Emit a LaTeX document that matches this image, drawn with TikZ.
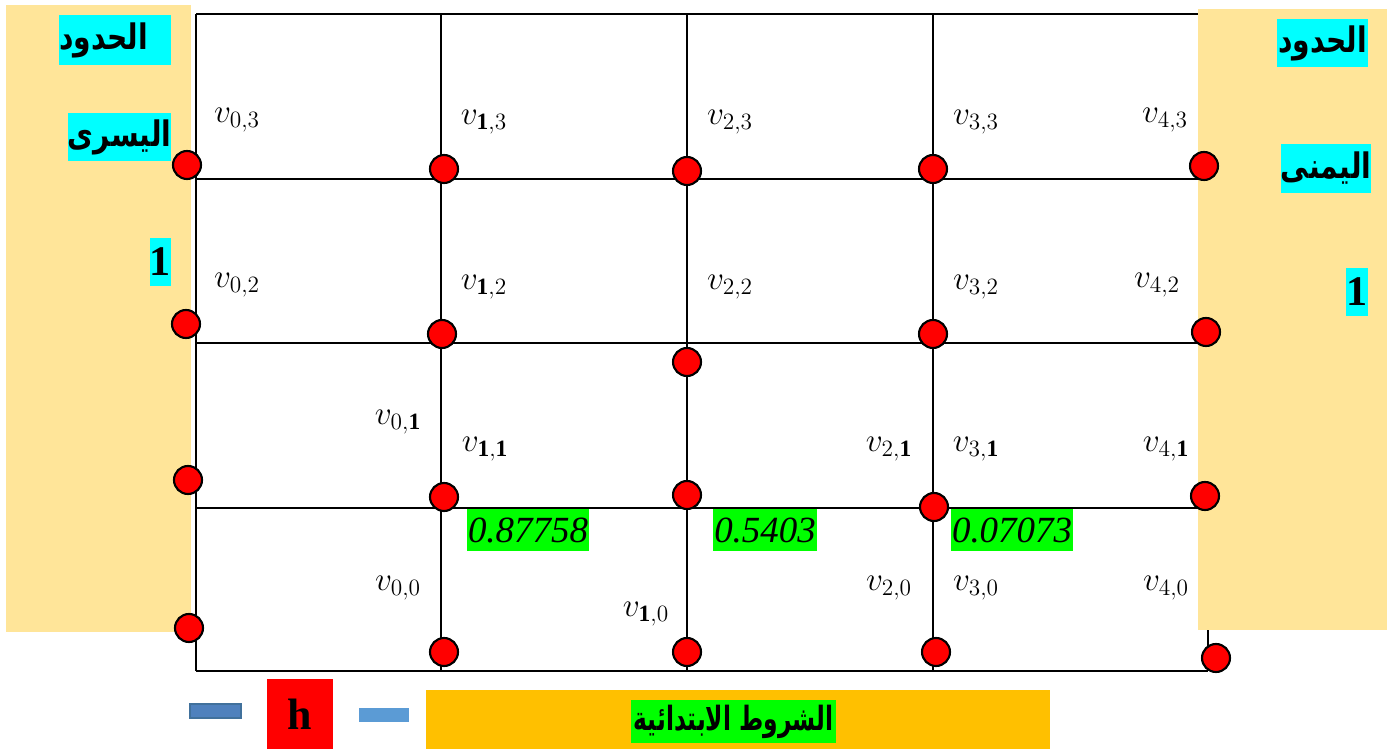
\RequirePackage{fix-cm}
\documentclass[tikz,border=0pt]{standalone}
\usepackage{fontspec}
\usepackage{graphicx}
\setmainfont{Liberation Serif}
\newfontfamily\arabicfont[Script=Arabic]{DejaVu Sans}
\TeXXeTstate=1
\usepackage{tikz}
\usetikzlibrary{positioning}
\definecolor{gdBound}{HTML}{FFE599}
\definecolor{gdCyan}{HTML}{00FFFF}
\definecolor{gdGreen}{HTML}{00FF00}
\definecolor{gdOrange}{HTML}{FFC000}
\definecolor{gdRed}{HTML}{FF0000}
\definecolor{gdBlue}{HTML}{4F81BD}
\definecolor{gdBlueEdge}{HTML}{41719C}
\definecolor{gdLightBlue}{HTML}{5B9BD5}
\tikzset{
    % grid and mesh points
    gridline/.style={line width=1.2pt, black},
    vertex/.style={circle, draw=black, fill=gdRed, line width=1.2pt, minimum size=0.56cm, inner sep=0pt},
    vlabel/.style={inner sep=0pt, font=\fontsize{19}{22}\selectfont},
    % boxes with text
    boundlab/.style={fill=gdCyan, inner sep=0pt, align=center, font=\arabicfont\bfseries\fontsize{20}{24}\selectfont},
    boundnum/.style={fill=gdCyan, inner sep=0pt, font=\bfseries\fontsize{24}{28}\selectfont},
    valbox/.style={fill=gdGreen, inner sep=0pt, minimum height=0.84cm, font=\itshape\fontsize{21}{25}\selectfont},
    tickbar/.style={inner sep=0pt, minimum height=0.28cm}
}

\begin{document}
\begin{tikzpicture}[x=0.02cm, y=-0.02cm]
    \useasboundingbox (0,0) rectangle (1390,749);

    % Grid lines
    \draw[gridline] (196,14) -- (1208,14);
    \draw[gridline] (196,179) -- (1208,179);
    \draw[gridline] (196,343) -- (1208,343);
    \draw[gridline] (196,508) -- (1208,508);
    \draw[gridline] (196,671) -- (1208,671);
    \draw[gridline] (196,14) -- (196,671);
    \draw[gridline] (441,14) -- (441,671);
    \draw[gridline] (687,14) -- (687,671);
    \draw[gridline] (933,14) -- (933,671);
    \draw[gridline] (1208,14) -- (1208,671);

    % Boundary panels
    \fill[gdBound] (6,5) rectangle (191,632);
    \fill[gdBound] (1198,9) rectangle (1387,630);

    % Left boundary labels
    \node[boundlab, minimum width=2.24cm, minimum height=1.0cm] (left1) at (115,40) {\scalebox{0.8}[1]{\beginR الحدود\endR}\hspace{0.46cm}};
    \node[boundlab, minimum width=2.06cm, minimum height=0.96cm] (left2) at (119.5,137) {\scalebox{0.8}[1]{\beginR اليسرى\endR}};
    \node[boundnum, minimum width=0.42cm, minimum height=0.96cm] (left3) at (160.5,262) {1};

    % Right boundary labels
    \node[boundlab, minimum width=1.82cm, minimum height=0.96cm] (right1) at (1322.5,43) {\scalebox{0.8}[1]{\beginR الحدود\endR}};
    \node[boundlab, minimum width=1.68cm, minimum height=0.98cm] (right2) at (1326,168.5) {\scalebox{0.8}[1]{\beginR اليمنى\endR}};
    \node[boundnum, minimum width=0.44cm, minimum height=0.96cm] (right3) at (1357,292) {1};

    % Mesh points, column 0
    \node[vertex] (p03) at (187,165) {};
    \node[vertex] (p02) at (186,324) {};
    \node[vertex] (p01) at (188,480) {};
    \node[vertex] (p00) at (189,628) {};
    % column 1
    \node[vertex] (p13) at (444,169) {};
    \node[vertex] (p12) at (442,334) {};
    \node[vertex] (p11) at (444,497) {};
    \node[vertex] (p10) at (444,652) {};
    % column 2
    \node[vertex] (p23) at (687,171) {};
    \node[vertex] (p22) at (687,362) {};
    \node[vertex] (p21) at (687,495) {};
    \node[vertex] (p20) at (687,652) {};
    % column 3
    \node[vertex] (p33) at (933,169) {};
    \node[vertex] (p32) at (933,334) {};
    \node[vertex] (p31) at (934,507) {};
    \node[vertex] (p30) at (936,652) {};
    % column 4
    \node[vertex] (p43) at (1204,166) {};
    \node[vertex] (p42) at (1206,332) {};
    \node[vertex] (p41) at (1205,496) {};
    \node[vertex] (p40) at (1216,658) {};

    % Point names
    \node[vlabel] (v03) at (237,120) {$v_{0,3}$};
    \node[vlabel] (v13) at (484,122) {$v_{\mathbf{1},3}$};
    \node[vlabel] (v23) at (730,122) {$v_{2,3}$};
    \node[vlabel] (v33) at (976,122) {$v_{3,3}$};
    \node[vlabel] (v43) at (1165,120) {$v_{4,3}$};

    \node[vlabel] (v02) at (237,285) {$v_{0,2}$};
    \node[vlabel] (v12) at (484,287) {$v_{\mathbf{1},2}$};
    \node[vlabel] (v22) at (730,287) {$v_{2,2}$};
    \node[vlabel] (v32) at (976,287) {$v_{3,2}$};
    \node[vlabel] (v42) at (1157,285) {$v_{4,2}$};

    \node[vlabel] (v01) at (398,422) {$v_{0,\mathbf{1}}$};
    \node[vlabel] (v11) at (485,449) {$v_{\mathbf{1},\mathbf{1}}$};
    \node[vlabel] (v21) at (889,449) {$v_{2,\mathbf{1}}$};
    \node[vlabel] (v31) at (976,449) {$v_{3,\mathbf{1}}$};
    \node[vlabel] (v41) at (1166,449) {$v_{4,\mathbf{1}}$};

    \node[vlabel] (v00) at (398,588) {$v_{0,0}$};
    \node[vlabel] (v10) at (646,614) {$v_{\mathbf{1},0}$};
    \node[vlabel] (v20) at (889,588) {$v_{2,0}$};
    \node[vlabel] (v30) at (976,588) {$v_{3,0}$};
    \node[vlabel] (v40) at (1166,588) {$v_{4,0}$};

    % Initial values
    \node[valbox, minimum width=2.44cm] (val1) at (528,530) {0.87758};
    \node[valbox, minimum width=2.08cm] (val2) at (765,530) {0.5403};
    \node[valbox, minimum width=2.44cm] (val3) at (1012,530) {0.07073};

    % Step size and initial conditions
    \node[tickbar, minimum width=1.02cm, fill=gdBlue, draw=gdBlueEdge, line width=1pt] (hleft) at (215.5,711) {};
    \node[fill=gdRed, inner sep=0pt, minimum width=1.32cm, minimum height=1.4cm, font=\bfseries\fontsize{25}{30}\selectfont] (hbox) at (300,714) {h};
    \node[tickbar, minimum width=1.0cm, fill=gdLightBlue] (hright) at (384,715) {};
    \node[fill=gdOrange, inner sep=0pt, minimum width=12.48cm, minimum height=1.18cm] (init) at (738,719.5) {};
    \node[fill=gdGreen, inner sep=0pt, minimum width=4.1cm, minimum height=0.86cm, font=\arabicfont\bfseries\fontsize{19}{23}\selectfont] (initlab) at (733.5,721.5) {\scalebox{0.7}[1]{\beginR الشروط الابتدائية\endR}};
\end{tikzpicture}
\end{document}
